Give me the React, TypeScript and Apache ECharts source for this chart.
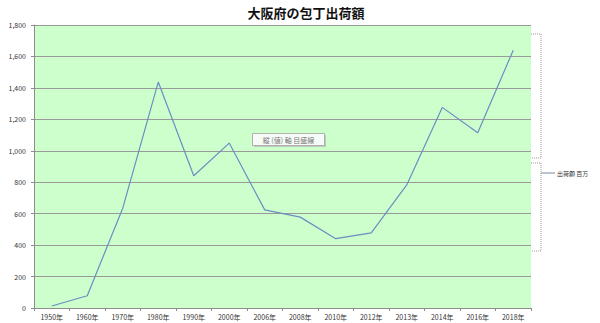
import React, { useEffect, useRef } from "react";
import * as echarts from "echarts";

const categories = ["1950年", "1960年", "1970年", "1980年", "1990年", "2000年", "2006年", "2008年", "2010年", "2012年", "2013年", "2014年", "2016年", "2018年"];
const shipments = [13, 78, 635, 1437, 841, 1049, 624, 578, 441, 478, 783, 1276, 1115, 1639];
const yTicks = { min: 0, max: 1800, interval: 200 };

const FONT = "'Noto Sans CJK JP', 'Noto Sans', sans-serif";

export default function App() {
  const ref = useRef<HTMLDivElement>(null);
  useEffect(() => {
    if (!ref.current) return;
    const chart = echarts.init(ref.current, undefined, { renderer: "svg" });
    const dotted = { stroke: "#9a9a9a", lineWidth: 1, lineDash: [1, 1], fill: null };
    chart.setOption({
      animation: false,
      backgroundColor: "#ffffff",
      title: {
        text: "大阪府の包丁出荷額",
        left: 301,
        top: 1,
        textAlign: "center",
        textStyle: { fontFamily: FONT, fontSize: 13, fontWeight: "bold", color: "#111" },
      },
      grid: { left: 34, top: 25, width: 497, height: 283, show: true, backgroundColor: "#ccffcc", borderWidth: 0 },
      xAxis: {
        type: "category",
        data: categories,
        boundaryGap: true,
        axisLine: { lineStyle: { color: "#8c8c8c", width: 1 } },
        axisTick: { show: true, length: 3, lineStyle: { color: "#8c8c8c" } },
        axisLabel: { fontFamily: FONT, fontSize: 7, color: "#333", margin: 5, interval: 0 },
        splitLine: { show: false },
      },
      yAxis: {
        type: "value",
        min: yTicks.min,
        max: yTicks.max,
        interval: yTicks.interval,
        axisLine: { show: true, lineStyle: { color: "#8c8c8c", width: 1 } },
        axisTick: { show: true, length: 3, lineStyle: { color: "#8c8c8c" } },
        axisLabel: {
          fontFamily: FONT,
          fontSize: 7,
          color: "#333",
          margin: 8,
          formatter: (v: number) => v.toLocaleString("en-US"),
        },
        splitLine: { show: true, lineStyle: { color: "#9a9a9a", width: 1.2 } },
      },
      series: [
        {
          type: "line",
          data: shipments,
          symbol: "none",
          lineStyle: { color: "#6a8dc4", width: 1.2 },
        },
      ],
      graphic: [
        { type: "polyline", shape: { points: [[531, 34], [541, 34], [541, 158], [531, 158]] }, style: dotted },
        { type: "polyline", shape: { points: [[531, 163], [541, 163], [541, 251], [531, 251]] }, style: dotted },
        { type: "line", shape: { x1: 541, y1: 173, x2: 555, y2: 173 }, style: { stroke: "#7a8aa0", lineWidth: 1 } },
        {
          type: "text",
          x: 557,
          y: 173,
          style: { text: "出荷額 百万", fontFamily: FONT, fontSize: 6, fill: "#333", verticalAlign: "middle" },
        },
        {
          type: "rect",
          shape: { x: 254, y: 135, width: 72, height: 12 },
          style: { fill: "#aaaaaa", opacity: 0.6 },
        },
        {
          type: "rect",
          shape: { x: 252.5, y: 133.5, width: 72, height: 12 },
          style: { fill: "#f7fbf7", stroke: "#b0b0b0", lineWidth: 1 },
        },
        {
          type: "text",
          x: 288.5,
          y: 139.5,
          style: { text: "縦 (値) 軸 目盛線", fontFamily: FONT, fontSize: 7, fill: "#777", align: "center", verticalAlign: "middle" },
        },
      ],
    });
    return () => chart.dispose();
  }, []);
  return <div ref={ref} style={{ position: "fixed", left: 0, top: 0, width: 600, height: 323 }} />;
}
